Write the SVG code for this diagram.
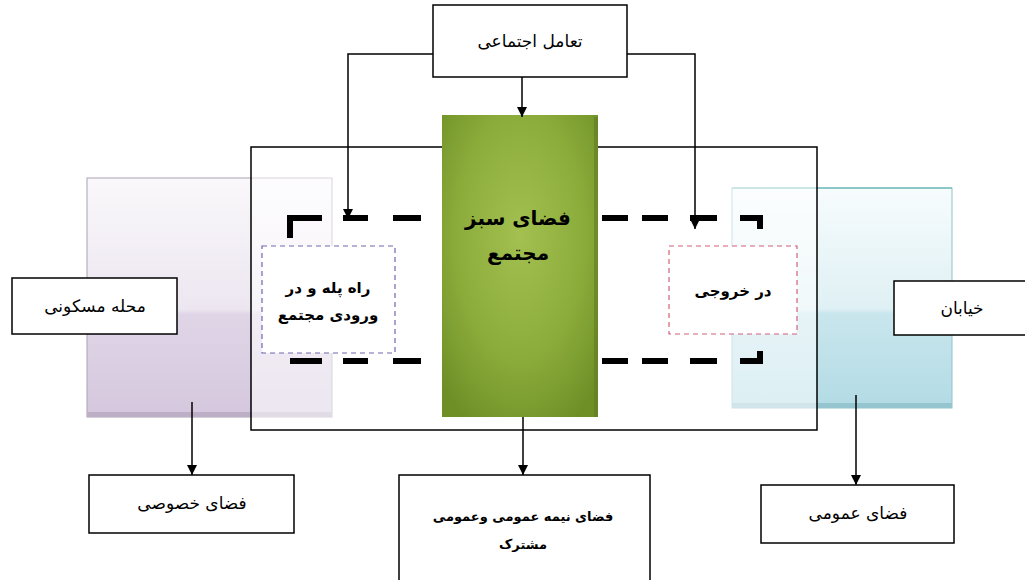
<svg xmlns="http://www.w3.org/2000/svg" width="1025" height="580" viewBox="0 0 1025 580">
<defs>
<linearGradient id="gPurple" x1="0" y1="0" x2="0" y2="1">
<stop offset="0" stop-color="#faf8fb"/>
<stop offset="0.55" stop-color="#ece6f0"/>
<stop offset="0.57" stop-color="#e0d5e7"/>
<stop offset="1" stop-color="#d5c8de"/>
</linearGradient>
<linearGradient id="gCyan" x1="0" y1="0" x2="0" y2="1">
<stop offset="0" stop-color="#f7fcfd"/>
<stop offset="0.55" stop-color="#dff0f4"/>
<stop offset="0.57" stop-color="#c9e6ed"/>
<stop offset="1" stop-color="#b3dbe5"/>
</linearGradient>
<radialGradient id="gGreen" cx="0.5" cy="0.4" r="0.7">
<stop offset="0" stop-color="#a3c050"/>
<stop offset="0.6" stop-color="#8aab3a"/>
<stop offset="1" stop-color="#6e8f26"/>
</radialGradient>
<marker id="arr" viewBox="0 0 10 10" refX="10" refY="5" markerWidth="10" markerHeight="10" markerUnits="userSpaceOnUse" orient="auto">
<path d="M0,0 L10,5 L0,10 Z" fill="#000"/>
</marker>
<style>
.box{fill:#fff;stroke:#000;stroke-width:1.5}
.lbl{font-family:"DejaVu Sans",sans-serif;font-size:17px;fill:#000;text-anchor:middle}
.mid{font-size:15px;font-weight:bold}
.big{font-size:20px;font-weight:bold}
.small{font-size:13px;font-weight:bold}
.con{fill:none;stroke:#000;stroke-width:1.5}
.thick{fill:none;stroke:#000;stroke-width:6}
</style>
</defs>
<rect width="1025" height="580" fill="#fff"/>

<g id="region-private">
<rect x="87" y="178" width="245" height="239" fill="url(#gPurple)" stroke="#aaa2b2" stroke-width="1"/>
<rect x="87" y="412" width="245" height="5" fill="#bdb0c6"/>
</g>
<g id="region-public">
<rect x="732" y="188" width="220" height="220" fill="url(#gCyan)" stroke="#8cc4c8" stroke-width="1"/>
<line x1="732" y1="188" x2="952" y2="188" stroke="#5bb0b0" stroke-width="1.2"/>
<rect x="732" y="403" width="220" height="5" fill="#95c6cf"/>
</g>

<g id="complex">
<rect x="251" y="147" width="566" height="283" fill="#fff" fill-opacity="0.55" stroke="#000" stroke-width="1.5"/>
</g>

<g id="green-space">
<rect x="442" y="115" width="156" height="302" fill="url(#gGreen)"/>
<rect x="594" y="117" width="4" height="300" fill="#5f7d1f" opacity="0.6"/>
<text class="lbl big" x="518" y="225">فضای سبز</text>
<text class="lbl big" x="518" y="260">مجتمع</text>
</g>

<g id="stair-entrance">
<rect x="262" y="246" width="133" height="107" fill="#fff" stroke="#7068b0" stroke-width="1.2" stroke-dasharray="5 4"/>
<text class="lbl mid" x="328" y="293">راه پله و در</text>
<text class="lbl mid" x="328" y="320">ورودی مجتمع</text>
</g>

<g id="exit-door">
<rect x="669" y="246" width="128" height="88" fill="#fff" stroke="#d0607a" stroke-width="1.2" stroke-dasharray="5 4"/>
<text class="lbl mid" x="733" y="296">در خروجی</text>
</g>

<g id="frame-dashes">
<path class="thick" d="M290,238 V218 H322"/>
<path class="thick" d="M343,218 H368 M393,218 H421"/>
<path class="thick" d="M290,361 H322 M343,361 H368 M393,361 H421"/>
<path class="thick" d="M602,218 H628 M642,218 H668 M690,218 H717"/>
<path class="thick" d="M740,218 H760 V229"/>
<path class="thick" d="M602,361 H628 M642,361 H668 M690,361 H717"/>
<path class="thick" d="M740,361 H760 V351"/>
</g>

<g id="connectors">
<path class="con" d="M522,77 V117" marker-end="url(#arr)"/>
<path class="con" d="M433,54 H348 V219" marker-end="url(#arr)"/>
<path class="con" d="M627,54 H695 V229" marker-end="url(#arr)"/>
<path class="con" d="M192,402 V475" marker-end="url(#arr)"/>
<path class="con" d="M523,417 V475" marker-end="url(#arr)"/>
<path class="con" d="M856,395 V485" marker-end="url(#arr)"/>
</g>

<g id="social-interaction">
<rect class="box" x="433" y="5" width="194" height="72"/>
<text class="lbl" x="530" y="47">تعامل اجتماعی</text>
</g>

<g id="residential">
<rect class="box" x="12" y="278" width="165" height="56"/>
<text class="lbl" x="95" y="312">محله مسکونی</text>
</g>

<g id="street">
<rect class="box" x="894" y="281" width="140" height="54"/>
<text class="lbl" x="962" y="314">خیابان</text>
</g>

<g id="private-space">
<rect class="box" x="89" y="475" width="205" height="58"/>
<text class="lbl" x="192" y="509">فضای خصوصی</text>
</g>

<g id="semi-public">
<rect class="box" x="399" y="475" width="251" height="115"/>
<text class="lbl small" x="523" y="521">فضای نیمه عمومی وعمومی</text>
<text class="lbl small" x="523" y="549">مشترک</text>
</g>

<g id="public-space">
<rect class="box" x="761" y="485" width="193" height="58"/>
<text class="lbl" x="858" y="519">فضای عمومی</text>
</g>
</svg>
